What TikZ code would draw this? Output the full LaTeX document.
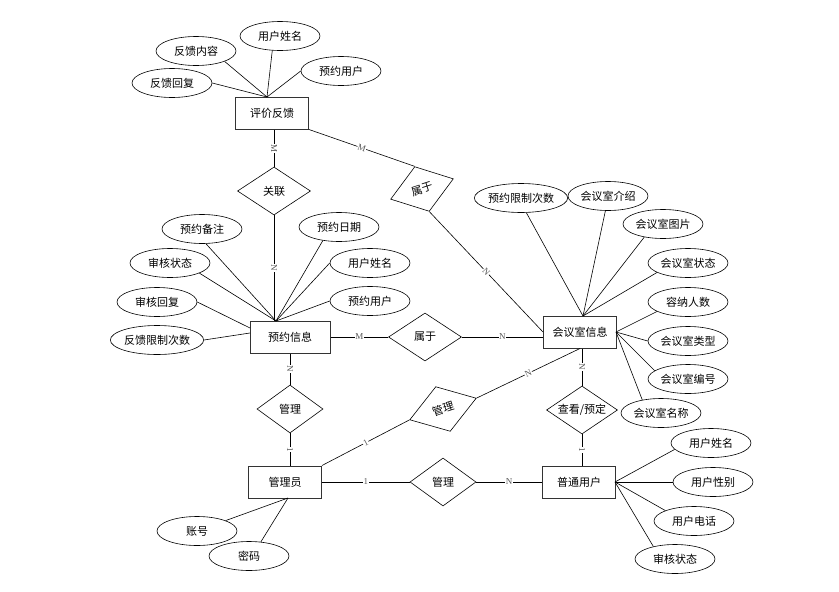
\documentclass[tikz,border=0pt]{standalone}
\usepackage{fontspec}
\setmainfont{Noto Sans CJK SC}
\newfontfamily\labfont{Liberation Serif}
\usetikzlibrary{shapes.geometric}
\begin{document}
\begin{tikzpicture}[x=1pt,y=-1pt,
  txt/.style={font=\fontsize{11}{13}\selectfont},
  ent/.style={txt, draw=black!80, line width=1pt, rectangle, minimum width=73pt, minimum height=32pt, inner sep=0pt},
  attr/.style={txt, draw, ellipse, line width=0.6pt, minimum width=80pt, minimum height=29pt, inner sep=0pt},
  rel/.style={txt, draw, diamond, aspect=1.5, inner sep=0pt, minimum width=73pt, minimum height=48pt, line width=0.6pt},
  lab/.style={font=\labfont\fontsize{9}{10}\selectfont, text=black!65, fill=white, inner sep=0.6pt, sloped},
  conn/.style={line width=0.6pt}]
\useasboundingbox (0,0) rectangle (839,592);

% entities
\node[ent] (pj) at (272,113) {评价反馈};
\node[ent, minimum width=80pt] (yy) at (290,337) {预约信息};
\node[ent] (hy) at (580,332) {会议室信息};
\node[ent] (gly) at (285,482) {管理员};
\node[ent] (pt) at (579,482) {普通用户};

% relations
\node[rel] (gx) at (274,191) {关联};
\node[rel, rotate=18, minimum width=66pt, minimum height=47pt] (sy1) at (422,189) {属于};
\node[rel] (sy2) at (425,337) {属于};
\node[rel, minimum width=66pt] (gm1) at (290,409) {管理};
\node[rel, rotate=18, minimum width=70pt, minimum height=47pt] (gm2) at (443,409) {管理};
\node[rel, minimum width=66pt] (gm3) at (443,482) {管理};
\node[rel, minimum width=71pt] (ck) at (582,410) {查看/预定};

% attributes
\node[attr] (a1) at (172,83) {反馈回复};
\node[attr] (a2) at (196,51) {反馈内容};
\node[attr] (a3) at (280,36) {用户姓名};
\node[attr] (a4) at (341,71) {预约用户};

\node[attr] (b1) at (202,229) {预约备注};
\node[attr] (b2) at (170,263) {审核状态};
\node[attr] (b3) at (157,302) {审核回复};
\node[attr] (b4) at (157,340) {反馈限制次数};
\node[attr] (b5) at (339,227) {预约日期};
\node[attr] (b6) at (370,263) {用户姓名};
\node[attr] (b7) at (370,301) {预约用户};

\node[attr] (c1) at (521,198) {预约限制次数};
\node[attr] (c2) at (608,196) {会议室介绍};
\node[attr] (c3) at (663,224) {会议室图片};
\node[attr] (c4) at (688,263) {会议室状态};
\node[attr] (c5) at (688,302) {容纳人数};
\node[attr] (c6) at (688,341) {会议室类型};
\node[attr] (c7) at (688,379) {会议室编号};
\node[attr] (c8) at (661,413) {会议室名称};

\node[attr] (d1) at (711,443) {用户姓名};
\node[attr] (d2) at (713,482) {用户性别};
\node[attr] (d3) at (694,521) {用户电话};
\node[attr] (d4) at (675,559) {审核状态};

\node[attr] (e1) at (197,531) {账号};
\node[attr] (e2) at (249,556) {密码};

% connection points
\coordinate (pjT) at (267,97);
\coordinate (yyT) at (276,321);
\coordinate (yyL1) at (250,328);
\coordinate (yyL2) at (250,333);
\coordinate (hyT) at (583,316);
\coordinate (hyR) at (616,332);
\coordinate (ptR) at (615,482);
\coordinate (glyB) at (288,498);

% attribute lines
\draw[conn] (a1.east) -- (pjT);
\draw[conn] (a2.-20) -- (pjT);
\draw[conn] (a3.-118) -- (pjT);
\draw[conn] (a4.west) -- (pjT);

\draw[conn] (b1.-75) -- (yyT);
\draw[conn] (b2.-19) -- (yyT);
\draw[conn] (b3.east) -- (yyL1);
\draw[conn] (b4.east) -- (yyL2);
\draw[conn] (b5.220) -- (yyT);
\draw[conn] (b6.west) -- (yyT);
\draw[conn] (b7.west) -- (yyT);

\draw[conn] (c1.-70) -- (hyT);
\draw[conn] (c2.-100) -- (hyT);
\draw[conn] (c3.215) -- (hyT);
\draw[conn] (c4.197) -- (hyT);
\draw[conn] (c5.197) -- (hyR);
\draw[conn] (c6.west) -- (hyR);
\draw[conn] (c7.166) -- (hyR);
\draw[conn] (c8.145) -- (hyR);

\draw[conn] (d1.190) -- (ptR);
\draw[conn] (d2.west) -- (ptR);
\draw[conn] (d3.160) -- (ptR);
\draw[conn] (d4.150) -- (ptR);

\draw[conn] (e1.20) -- (glyB);
\draw[conn] (e2.50) -- (glyB);

% relationship lines
\draw[conn] (gx.north |- pj.south) -- node[lab]{M} (gx.north);
\draw[conn] (gx.south) -- node[lab]{N} (gx.south |- yy.north);
\draw[conn] (pj.south east) -- node[lab]{M} (sy1.north);
\draw[conn] (sy1.south) -- node[lab]{N} (hy.west);
\draw[conn] (yy.east) -- node[lab]{M} (sy2.west);
\draw[conn] (sy2.east) -- node[lab]{N} (sy2.east -| hy.west);
\draw[conn] (yy.south) -- node[lab]{N} (gm1.north);
\draw[conn] (gm1.south) -- node[lab]{1} (gm1.south |- gly.north);
\draw[conn] (gly.north east) -- node[lab]{1} (gm2.west);
\draw[conn] (gm2.east) -- node[lab]{N} (hy.south);
\draw[conn] (gly.east) -- node[lab]{1} (gm3.west);
\draw[conn] (gm3.east) -- node[lab]{N} (pt.west);
\draw[conn] (hy.south -| ck.north) -- node[lab]{N} (ck.north);
\draw[conn] (ck.south) -- node[lab]{1} (ck.south |- pt.north);
\end{tikzpicture}
\end{document}
